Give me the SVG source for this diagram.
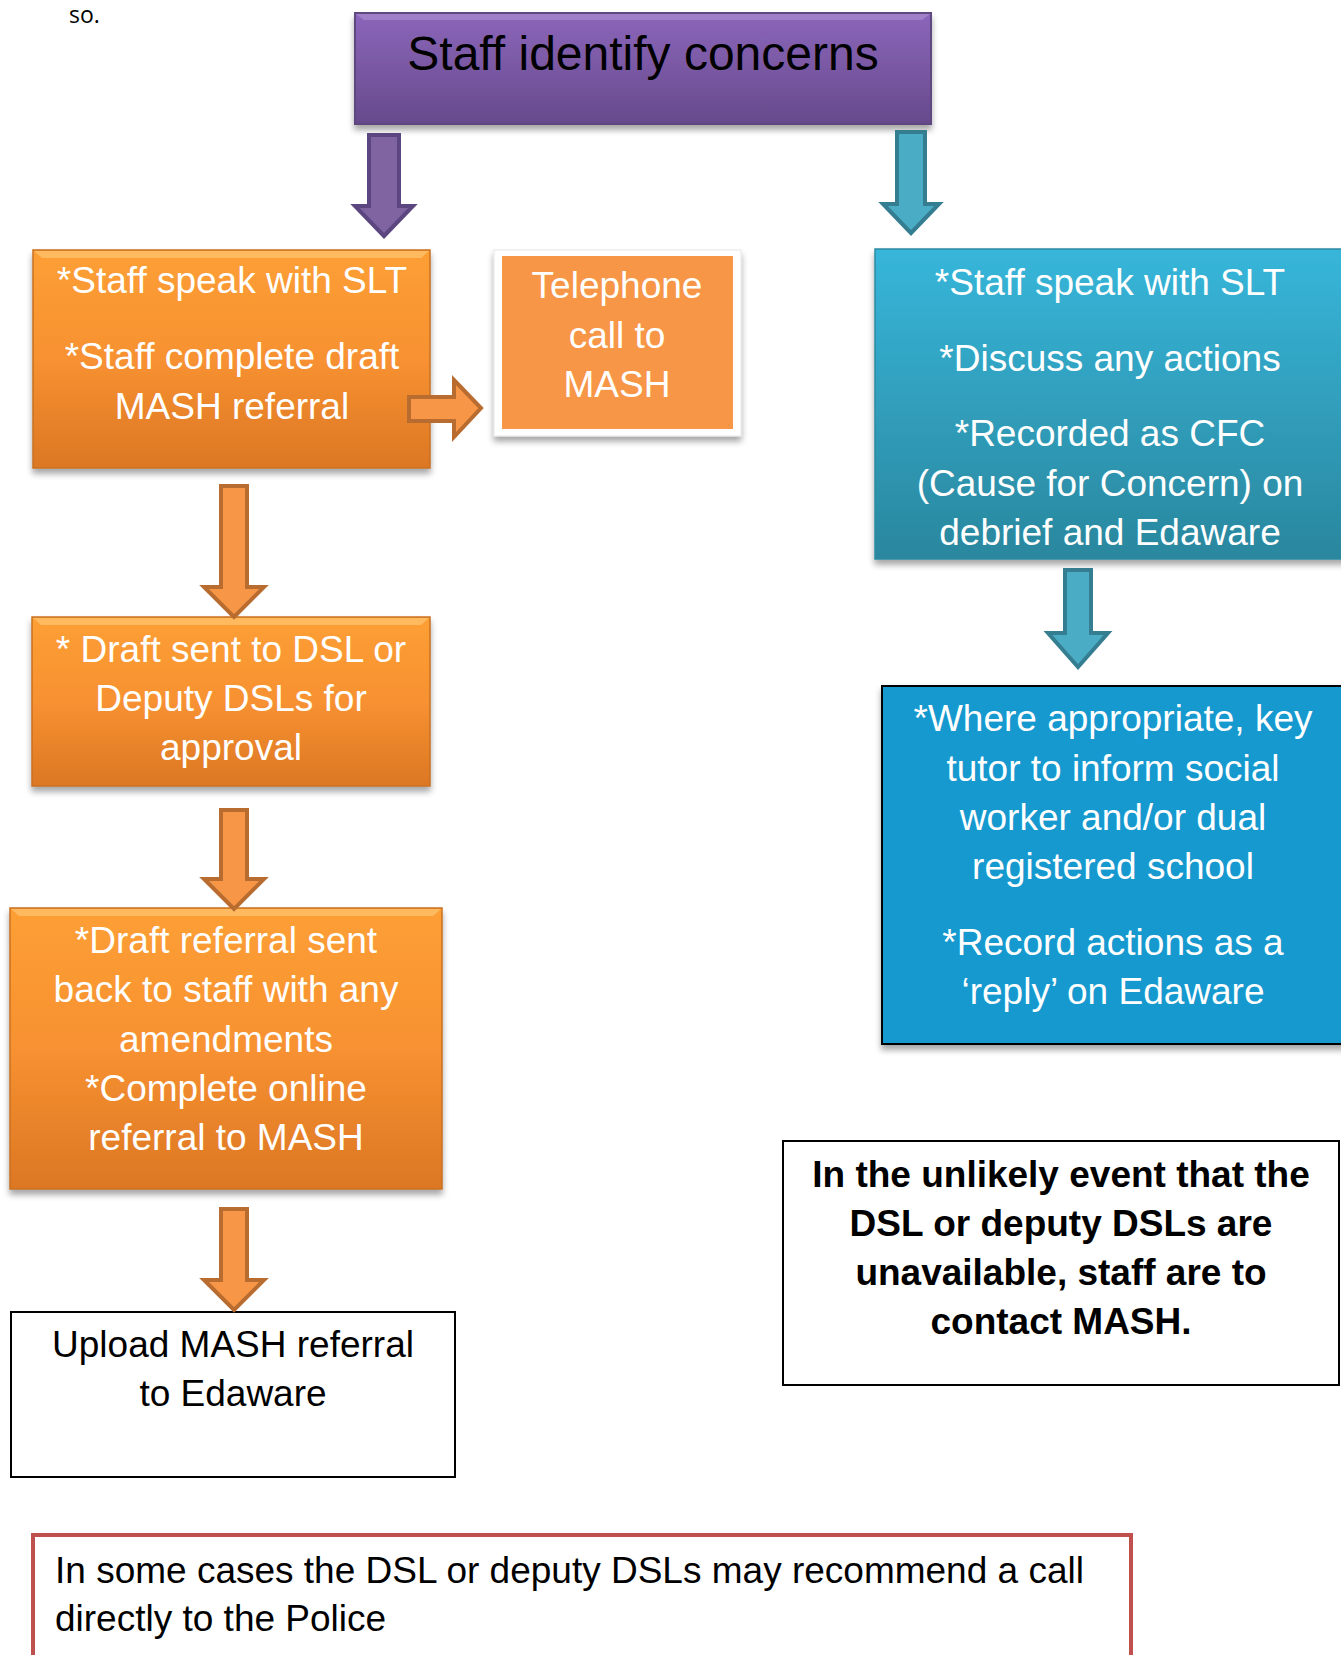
<svg xmlns="http://www.w3.org/2000/svg" width="1341" height="1655" viewBox="0 0 1341 1655">
<defs>
<linearGradient id="gPurple" x1="0" y1="0" x2="0" y2="1"><stop offset="0" stop-color="#8c66ba"/><stop offset="1" stop-color="#664a8c"/></linearGradient>
<linearGradient id="gOrange" x1="0" y1="0" x2="0" y2="1"><stop offset="0" stop-color="#fd9f35"/><stop offset="0.5" stop-color="#f79131"/><stop offset="1" stop-color="#dc7724"/></linearGradient>
<linearGradient id="gTeal" x1="0" y1="0" x2="0" y2="1"><stop offset="0" stop-color="#37b6da"/><stop offset="1" stop-color="#2a879e"/></linearGradient>
<filter id="sh" x="-10%" y="-10%" width="120%" height="130%"><feDropShadow dx="0" dy="5" stdDeviation="3" flood-color="#000" flood-opacity="0.35"/></filter>
</defs>
<style>
.t{font-family:"Liberation Sans",Arial,sans-serif;font-size:37px;text-anchor:middle;}
.w{fill:#ffffff;}
.k{fill:#000000;}
.b{font-weight:bold;}
.ao{fill:#f79646;stroke:#b96c30;stroke-width:4;}
.ap{fill:#8064a2;stroke:#5b4680;stroke-width:4;}
.at{fill:#4bacc6;stroke:#357d91;stroke-width:4;}
</style>
<text x="69" y="23" style="font-family:'Open Sans','Liberation Sans',sans-serif;font-size:23px;fill:#000">so.</text>

<g id="n-start">
<rect x="355" y="13" width="576" height="111" fill="url(#gPurple)" stroke="#5e4780" stroke-width="2" filter="url(#sh)"/>
<path d="M356 14 H930 L922 20 H364 Z" fill="#a98bd0" opacity="0.7"/>
<text class="t" x="643" y="70" style="font-size:48px;fill:#000">Staff identify concerns</text>
</g>

<g id="n-slt-orange">
<rect x="33" y="250" width="397" height="218" fill="url(#gOrange)" stroke="#c9701f" stroke-width="1.5" filter="url(#sh)"/>
<path d="M34 251 H429 L421 258 H42 Z" fill="#ffc16a" opacity="0.8"/>
<text class="t w" x="232" y="293">*Staff speak with SLT</text>
<text class="t w" x="232" y="369">*Staff complete draft</text>
<text class="t w" x="232" y="419">MASH referral</text>
</g>

<g id="n-telephone">
<rect x="494" y="250" width="247" height="186" fill="#ffffff" stroke="#e6e6e6" stroke-width="1" filter="url(#sh)"/>
<rect x="502" y="256" width="231" height="173" fill="#f79646"/>
<text class="t w" x="617" y="298">Telephone</text>
<text class="t w" x="617" y="348">call to</text>
<text class="t w" x="617" y="397">MASH</text>
</g>

<g id="n-draft-dsl">
<rect x="32" y="617" width="398" height="169" fill="url(#gOrange)" stroke="#c9701f" stroke-width="1.5" filter="url(#sh)"/>
<path d="M33 618 H429 L421 625 H41 Z" fill="#ffc16a" opacity="0.8"/>
<text class="t w" x="231" y="662">* Draft sent to DSL or</text>
<text class="t w" x="231" y="711">Deputy DSLs for</text>
<text class="t w" x="231" y="760">approval</text>
</g>

<g id="n-draft-back">
<rect x="10" y="908" width="432" height="281" fill="url(#gOrange)" stroke="#c9701f" stroke-width="1.5" filter="url(#sh)"/>
<path d="M11 909 H441 L433 916 H19 Z" fill="#ffc16a" opacity="0.8"/>
<text class="t w" x="226" y="953">*Draft referral sent</text>
<text class="t w" x="226" y="1002">back to staff with any</text>
<text class="t w" x="226" y="1052">amendments</text>
<text class="t w" x="226" y="1101">*Complete online</text>
<text class="t w" x="226" y="1150">referral to MASH</text>
</g>

<g id="n-upload">
<rect x="11" y="1312" width="444" height="165" fill="#ffffff" stroke="#000" stroke-width="2"/>
<text class="t k" x="233" y="1357">Upload MASH referral</text>
<text class="t k" x="233" y="1406">to Edaware</text>
</g>

<g id="n-slt-teal">
<rect x="875" y="249" width="480" height="310" fill="url(#gTeal)" stroke="#2b8aa3" stroke-width="1.5" filter="url(#sh)"/>
<text class="t w" x="1110" y="295">*Staff speak with SLT</text>
<text class="t w" x="1110" y="371">*Discuss any actions</text>
<text class="t w" x="1110" y="446">*Recorded as CFC</text>
<text class="t w" x="1110" y="496">(Cause for Concern) on</text>
<text class="t w" x="1110" y="545">debrief and Edaware</text>
</g>

<g id="n-where">
<rect x="882" y="686" width="470" height="358" fill="#1299cf" stroke="#000" stroke-width="2" filter="url(#sh)"/>
<text class="t w" x="1113" y="731">*Where appropriate, key</text>
<text class="t w" x="1113" y="781">tutor to inform social</text>
<text class="t w" x="1113" y="830">worker and/or dual</text>
<text class="t w" x="1113" y="879">registered school</text>
<text class="t w" x="1113" y="955">*Record actions as a</text>
<text class="t w" x="1113" y="1004">‘reply’ on Edaware</text>
</g>

<g id="n-unlikely">
<rect x="783" y="1141" width="556" height="244" fill="#ffffff" stroke="#000" stroke-width="2"/>
<text class="t k b" x="1061" y="1187">In the unlikely event that the</text>
<text class="t k b" x="1061" y="1236">DSL or deputy DSLs are</text>
<text class="t k b" x="1061" y="1285">unavailable, staff are to</text>
<text class="t k b" x="1061" y="1334">contact MASH.</text>
</g>

<g id="n-police">
<rect x="33" y="1535" width="1098" height="140" fill="#ffffff" stroke="#c0504d" stroke-width="4"/>
<text class="t k" x="55" y="1583" style="text-anchor:start">In some cases the DSL or deputy DSLs may recommend a call</text>
<text class="t k" x="55" y="1631" style="text-anchor:start">directly to the Police</text>
</g>

<g id="connectors">
<path class="ap" d="M369 135 H399 V206 H413 L384 236 L355 206 H369 Z"/>
<path class="at" d="M897 132 H925 V204 H939 L911 233 L883 204 H897 Z"/>
<path class="ao" d="M409 397 H454 V380 L481 408 L454 437 V421 H409 Z"/>
<path class="ao" d="M221 486 H247 V587 H264 L234 617 L204 587 H221 Z"/>
<path class="ao" d="M221 810 H247 V879 H264 L234 909 L204 879 H221 Z"/>
<path class="ao" d="M221 1209 H247 V1280 H264 L234 1310 L204 1280 H221 Z"/>
<path class="at" d="M1065 570 H1091 V633 H1108 L1078 667 L1048 633 H1065 Z"/>
</g>
</svg>
